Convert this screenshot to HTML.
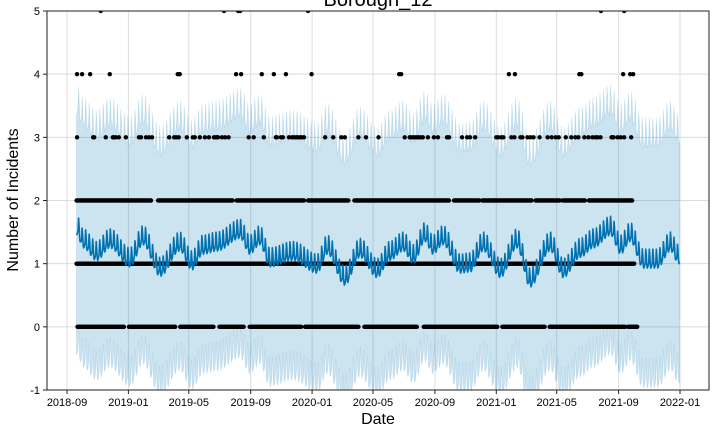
<!DOCTYPE html>
<html><head><meta charset="utf-8"><style>
body{margin:0;background:#fff;}
svg{display:block;font-family:"Liberation Sans",sans-serif;}
</style></head><body>
<svg id="chart" width="720" height="432" viewBox="0 0 720 432">
<text x="378" y="6" font-size="20" text-anchor="middle">Borough_12</text>
<g id="grid"></g>
<g id="band"></g>
<g id="pts"></g>
<g id="line"></g>
<rect x="47" y="11" width="662" height="379" fill="none" stroke="#222" stroke-width="1"/>
<g id="axes"></g>
<text x="378" y="424" font-size="16" text-anchor="middle">Date</text>
<text transform="translate(18,200) rotate(-90)" font-size="16" text-anchor="middle">Number of Incidents</text>
</svg>
<script>
// ---- data (day = days since 2018-09-20) ----
const yTicks = [-1,0,1,2,3,4,5];
const xTickLabels = ["2018-09","2019-01","2019-05","2019-09","2020-01","2020-05","2020-09","2021-01","2021-05","2021-09","2022-01"];
const baseDays = [1,13,40,66,106,132,166,205,229,251,279,325,344,364,384,430,478,498,533,563,597,622,649,669,692,708,728,762,782,808,842,875,901,941,967,1001,1027,1061,1081,1100,1126,1154,1180,1196];
const baseVals = [1.45,1.25,1.05,1.25,0.95,1.3,0.8,1.2,0.9,1.15,1.2,1.4,1.15,1.3,0.95,1.05,0.85,1.15,0.66,1.1,0.78,1.05,1.2,1.0,1.35,1.15,1.3,0.85,0.87,1.2,0.78,1.25,0.63,1.2,0.78,1.1,1.25,1.45,1.15,1.35,0.93,0.93,1.2,1.0];
const weekly = [0,0.02,0.05,0.1,0.3,0.2,0.05];
const bandHalf = [1.9];
const lastDay = 1198;
const fours = [1,11,27,66,201,205,317,327,368,392,416,467,641,645,859,871,999,1003,1086,1100,1106];
const fives = [48,293,321,325,460,1042,1088];
const threes = [1,33,35,58,72,74,78,84,98,124,128,138,144,150,184,194,198,203,219,231,235,245,255,263,273,277,279,281,289,295,302,342,352,372,396,398,406,410,422,428,432,436,440,444,448,452,494,510,526,533,560,575,600,652,662,664,668,672,676,680,684,688,698,710,718,736,740,766,776,782,792,834,838,844,848,864,870,882,886,896,902,908,920,936,944,952,958,972,983,991,997,1009,1017,1025,1031,1035,1041,1063,1065,1067,1075,1081,1088,1102];
const twoRuns = [[0,148],[162,310],[318,452],[460,540],[552,740],[750,800],[806,904],[912,960],[966,1010],[1018,1104]];
const oneRuns = [[0,1108]];
const zeroRuns = [[2,95],[104,196],[206,272],[284,332],[344,446],[454,560],[572,676],[690,836],[846,930],[940,1090],[1096,1114]];

// ---- scales ----
const ns="http://www.w3.org/2000/svg";
const X0=47,X1=709,Y0=11,Y1=390;
const pxDay=613/1218, origin=Date.UTC(2018,8,1), startOff=19;
function xDay(d){return 67+(d+startOff)*pxDay;}
function xDate(s){const [y,m]=s.split("-").map(Number);return 67+((Date.UTC(y,m-1,1)-origin)/864e5)*pxDay;}
function yV(v){return Y1-(v+1)*(Y1-Y0)/6;}
function mk(tag,attrs,parent){const e=document.createElementNS(ns,tag);for(const k in attrs)e.setAttribute(k,attrs[k]);parent.appendChild(e);return e;}
const grid=document.getElementById("grid"),axes=document.getElementById("axes");
yTicks.forEach(t=>{const y=yV(t);
 const g=mk("line",{x1:X0,x2:X1,y1:y,y2:y,stroke:"#dcdcdc","stroke-width":1},grid);
 
 
 const tk=mk("line",{x1:X0-4,x2:X0,y1:y,y2:y,stroke:"#222"},axes);
 
 
 const tx=mk("text",{x:X0-7,y:y+4,"font-size":11,"text-anchor":"end"},axes);tx.textContent=t;
 
 
});
xTickLabels.forEach(s=>{const x=xDate(s);
 const g=mk("line",{x1:x,x2:x,y1:Y0,y2:Y1,stroke:"#dcdcdc","stroke-width":1},grid);
 
 
 const tk=mk("line",{x1:x,x2:x,y1:Y1,y2:Y1+4,stroke:"#222"},axes);
 
 
 const tx=mk("text",{x:x,y:Y1+16,"font-size":11,"text-anchor":"middle"},axes);tx.textContent=s;
 
 
});
function base(d){
 if(d<=baseDays[0])return baseVals[0];
 for(let i=1;i<baseDays.length;i++){if(d<=baseDays[i]){const t=(d-baseDays[i-1])/(baseDays[i]-baseDays[i-1]);const s=(1-Math.cos(Math.PI*t))/2;return baseVals[i-1]+(baseVals[i]-baseVals[i-1])*s;}}
 return baseVals[baseVals.length-1];
}
const yhat=[];for(let d=0;d<=lastDay;d++)yhat.push(base(d)+weekly[d%7]);
// band
let up="",lo="";
yhat.forEach((v,d)=>{up+=(d?"L":"M")+xDay(d).toFixed(2)+","+yV(Math.min(5,v+bandHalf[0]+weekly[d%7]*0.6)).toFixed(2);});
for(let d=lastDay;d>=0;d--){lo+="L"+xDay(d).toFixed(2)+","+yV(Math.max(-1.2,yhat[d]-bandHalf[0]+weekly[d%7]*0.6)).toFixed(2);}
const clip=mk("clipPath",{id:"pc"},document.getElementById("chart"));mk("rect",{x:X0,y:Y0,width:X1-X0,height:Y1-Y0},clip);
const bandG=document.getElementById("band");bandG.setAttribute("clip-path","url(#pc)");
const bp=mk("path",{d:up+lo+"Z",fill:"#0072B2","fill-opacity":0.2,stroke:"#0072B2","stroke-opacity":0.15,"stroke-width":0.8},bandG);


// points
const ptsG=document.getElementById("pts");ptsG.setAttribute("clip-path","url(#pc)");
function dot(d,v){const c=mk("circle",{cx:xDay(d),cy:yV(v),r:2.2,fill:"#000"},ptsG);
 
 }
function runs(rr,v){rr.forEach(r=>{for(let d=r[0];d<=r[1];d+=2)dot(d,v);});}
runs(zeroRuns,0);runs(oneRuns,1);runs(twoRuns,2);
threes.forEach(d=>dot(d,3));fours.forEach(d=>dot(d,4));fives.forEach(d=>dot(d,5));
// line
let lp="";yhat.forEach((v,d)=>{lp+=(d?"L":"M")+xDay(d).toFixed(2)+","+yV(v).toFixed(2);});
const ln=mk("path",{d:lp,fill:"none",stroke:"#0072B2","stroke-width":1.6,"stroke-linejoin":"round"},document.getElementById("line"));


</script>
</body></html>
